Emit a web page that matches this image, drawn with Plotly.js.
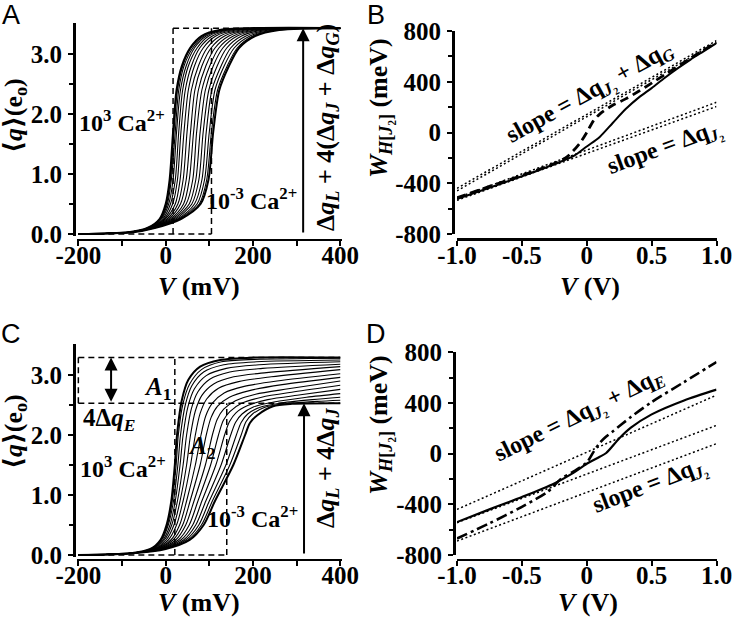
<!DOCTYPE html>
<html><head><meta charset="utf-8">
<script src="https://cdn.plot.ly/plotly-3.0.1.min.js"></script>
<style>html,body{margin:0;padding:0;background:#fff;}#chart{width:733px;height:619px;}</style>
</head><body><div id="chart"></div>
<script>
// ---------- DATA ----------
const V_MIN = -200, V_MAX = 400;           // mV
// Panel A: voltage (mV) at which each curve reaches the charge levels below
const A_levels = [0.03, 0.1, 0.25, 0.5, 0.9, 1.7, 2.4, 2.8, 3.1, 3.3, 3.4];
const A_qMax = 3.43;
const A_V = [
  [-85,-42,-14,0,9,17,25,37,56,82,124],
  [-85,-42,-13,2,11,19,27,39,58,84,127],
  [-84,-41,-12,4,13,22,30,42,62,88,131],
  [-84,-40,-10,7,17,25,34,47,66,93,136],
  [-84,-40,-7,11,22,30,39,52,72,99,143],
  [-83,-39,-4,16,27,35,45,59,78,107,151],
  [-82,-37,-1,22,33,42,52,66,86,115,161],
  [-82,-36,3,28,40,49,59,75,95,125,172],
  [-81,-35,7,34,47,57,67,83,104,135,183],
  [-80,-33,11,41,54,64,75,92,113,145,193],
  [-79,-32,15,47,62,71,83,101,122,155,204],
  [-78,-31,19,54,69,79,91,109,131,164,215],
  [-78,-29,23,60,76,86,99,118,140,174,226],
  [-77,-28,27,66,83,93,106,127,149,184,237],
  [-76,-27,30,72,89,100,113,134,157,193,246],
  [-75,-26,33,77,94,105,119,141,164,200,255],
  [-75,-25,35,80,98,109,123,145,168,205,260]
];
const A_guideV = [17, 105];
const A_arrowV = 315;

// Panel C: rising part (V at levels) + tail points (V, q)
const C_levels = [0.03, 0.1, 0.25, 0.5, 0.9, 1.5, 2.0];
const C_riseV = [
  [-80,-35,-12,2,13,21,26],
  [-80,-34,-11,4,15,24,29],
  [-80,-33,-9,6,18,28,34],
  [-80,-32,-6,10,22,33,40],
  [-79,-30,-3,14,27,40,48],
  [-79,-28,1,19,33,48,57],
  [-79,-26,6,25,40,57,68],
  [-78,-23,12,32,48,68,81],
  [-78,-20,17,39,56,79,93],
  [-77,-17,23,46,65,91,107],
  [-77,-14,29,54,74,103,121],
  [-77,-11,35,62,83,115,135],
  [-76,-7,41,69,92,127,149],
  [-76,-5,46,76,100,138,162],
  [-75,-2,51,82,107,147,173],
  [-75,0,55,87,113,155,182]
];
const C_tailV = [
  [37,52,79,125,200,400],
  [40,55,82,128,203,400],
  [45,60,87,133,208,400],
  [51,66,93,139,214,400],
  [59,74,101,147,222,400],
  [68,83,110,156,231,400],
  [79,94,121,167,242,400],
  [92,107,134,180,255,400],
  [104,119,146,192,267,400],
  [118,133,160,206,281,400],
  [132,147,174,220,295,400],
  [146,161,188,234,309,400],
  [160,175,202,248,323,400],
  [173,188,215,261,336,400],
  [184,199,226,272,347,400],
  [193,210,246,290,400]
];
const C_tailQ = [
  [2.58,2.92,3.14,3.25,3.29,3.29],
  [2.53,2.85,3.09,3.22,3.26,3.28],
  [2.50,2.82,3.05,3.17,3.22,3.25],
  [2.47,2.77,2.99,3.11,3.17,3.22],
  [2.44,2.72,2.93,3.05,3.11,3.18],
  [2.40,2.66,2.85,2.97,3.04,3.14],
  [2.36,2.60,2.78,2.89,2.97,3.09],
  [2.32,2.53,2.70,2.81,2.90,3.02],
  [2.29,2.48,2.63,2.74,2.84,2.96],
  [2.26,2.43,2.57,2.68,2.77,2.90],
  [2.24,2.39,2.53,2.63,2.72,2.83],
  [2.22,2.37,2.49,2.59,2.67,2.76],
  [2.21,2.35,2.47,2.55,2.63,2.69],
  [2.21,2.35,2.46,2.53,2.59,2.63],
  [2.22,2.35,2.46,2.52,2.56,2.58],
  [2.20,2.33,2.48,2.52,2.53]
];
const C_qTop = 3.29, C_qMid = 2.53;
const C_guideV = [21, 140];
const C_arrow2V = -125, C_arrowV = 317;

// Panel B (V in volts, W in meV)
const B_V     = [-1,-0.75,-0.5,-0.25,-0.1,0,0.1,0.2,0.3,0.4,0.5,0.6,0.7,0.8,0.9,1.0];
const B_solid = [-525,-435,-345,-250,-185,-110,-35,75,185,275,350,430,505,575,640,705];
const B_dashV = [-1,-0.75,-0.5,-0.25,-0.15,-0.05,0,0.05,0.1,0.2,0.3,0.4,0.5,0.6,0.8,1.0];
const B_dash  = [-515,-425,-338,-245,-190,-80,0,90,145,215,265,325,389,455,585,712];
const B_dotV  = [-1, 1];
const B_dotUp1 = [-440, 725], B_dotUp2 = [-460, 708];
const B_dotLo1 = [-515, 238], B_dotLo2 = [-535, 205];

// Panel D
const D_V      = [-1,-0.75,-0.5,-0.25,-0.1,0,0.1,0.15,0.25,0.34,0.5,0.75,1.0];
const D_solid  = [-540,-440,-342,-235,-150,-80,-25,5,120,205,310,420,505];
const D_ddV    = [-1,-0.75,-0.5,-0.3,-0.2,-0.1,0,0.05,0.1,0.15,0.2,0.34,0.5,0.75,1.0];
const D_dd     = [-670,-550,-420,-300,-200,-140,-70,10,85,135,175,289,407,565,723];
const D_dotV   = [-1, 1];
const D_dotUp  = [-440, 462];
const D_dotLo1 = [-545, 223], D_dotLo2 = [-690, 79];

// tick labels
const A_xTickVals = [-200, 0, 200, 400], A_xTickText = ['-200','0','200','400'];
const A_yTickVals = [0, 1, 2, 3], A_yTickText = ['0.0','1.0','2.0','3.0'];
const B_xTickVals = [-1, -0.5, 0, 0.5, 1], B_xTickText = ['-1.0','-0.5','0','0.5','1.0'];
const B_yTickVals = [-800, -400, 0, 400, 800], B_yTickText = ['-800','-400','0','400','800'];

// ---------- DRAWING ----------
const W = 733, H = 619;
const fx = x => x / W, fy = y => 1 - y / H;
const SERIF = 'Liberation Serif, Times New Roman, DejaVu Serif, serif';
const traces = [];
function addLine(x, y, xa, ya, dash, width, spline) {
  traces.push({type:'scatter', mode:'lines', x:x, y:y, xaxis:xa, yaxis:ya,
    line:{color:'black', width:width, dash:dash, shape: spline ? 'spline' : 'linear', smoothing: 0.8},
    hoverinfo:'skip', showlegend:false});
}
const GUIDE = '6px,4px';

// Panel A guides
addLine([A_guideV[0], V_MAX], [A_qMax, A_qMax], 'x', 'y', GUIDE, 1.5);
addLine([V_MIN, A_guideV[1]], [0, 0], 'x', 'y', GUIDE, 1.5);
addLine([A_guideV[0], A_guideV[0]], [0, A_qMax], 'x', 'y', GUIDE, 1.5);
addLine([A_guideV[1], A_guideV[1]], [0, A_qMax], 'x', 'y', GUIDE, 1.5);
// Panel A curves
A_V.forEach((row, i) => {
  const w = (i === 0 || i === A_V.length - 1) ? 2 : 1.1;
  addLine([V_MIN].concat(row, [V_MAX]), [0].concat(A_levels, [A_qMax]), 'x', 'y', 'solid', w, true);
});

// Panel C guides
addLine([V_MIN, V_MAX], [C_qTop, C_qTop], 'x3', 'y3', GUIDE, 1.5);
addLine([V_MIN, V_MAX], [C_qMid, C_qMid], 'x3', 'y3', GUIDE, 1.5);
addLine([V_MIN, C_guideV[1]], [0, 0], 'x3', 'y3', GUIDE, 1.5);
addLine([V_MIN, V_MIN], [C_qMid, C_qTop], 'x3', 'y3', GUIDE, 1.5);
addLine([C_guideV[0], C_guideV[0]], [0, C_qTop], 'x3', 'y3', GUIDE, 1.5);
addLine([C_guideV[1], C_guideV[1]], [0, C_qMid], 'x3', 'y3', GUIDE, 1.5);
// Panel C curves
C_riseV.forEach((row, i) => {
  const w = (i === 0 || i === C_riseV.length - 1) ? 2 : 1.1;
  addLine([V_MIN].concat(row, C_tailV[i]), [0].concat(C_levels, C_tailQ[i]), 'x3', 'y3', 'solid', w, true);
});

// Panel B
const DOT = '2px,2.5px';
addLine(B_dotV, B_dotUp1, 'x2', 'y2', DOT, 1.5);
addLine(B_dotV, B_dotUp2, 'x2', 'y2', DOT, 1.5);
addLine(B_dotV, B_dotLo1, 'x2', 'y2', DOT, 1.5);
addLine(B_dotV, B_dotLo2, 'x2', 'y2', DOT, 1.5);
addLine(B_V, B_solid, 'x2', 'y2', 'solid', 2, true);
addLine(B_dashV, B_dash, 'x2', 'y2', '9px,5px', 2.8, true);

// Panel D
addLine(D_dotV, D_dotUp, 'x4', 'y4', DOT, 1.5);
addLine(D_dotV, D_dotLo1, 'x4', 'y4', DOT, 1.5);
addLine(D_dotV, D_dotLo2, 'x4', 'y4', DOT, 1.5);
addLine(D_V, D_solid, 'x4', 'y4', 'solid', 2.2, true);
addLine(D_ddV, D_dd, 'x4', 'y4', '11px,4px,3px,4px', 2.6, true);

// ---------- AXES ----------
const tickFont = {family: SERIF, size: 25, color: 'black', weight: 'bold'};
function axis(o) {
  return Object.assign({
    showline: true, linecolor: 'black', linewidth: 2.5, mirror: false,
    ticks: 'outside', ticklen: 5, tickwidth: 2, tickcolor: 'black',
    showgrid: false, zeroline: false, fixedrange: true, anchor: 'free',
    tickmode: 'array', tickfont: tickFont, ticklabeloverflow: 'allow'
  }, o);
}
const minorX = {ticks:'outside', ticklen:5, tickwidth:2, tickcolor:'black', showgrid:false};
const XSTAND = -12;
const layout = {
  width: W, height: H, margin: {l:0, r:0, t:0, b:0},
  paper_bgcolor: 'white', plot_bgcolor: 'rgba(0,0,0,0)', showlegend: false,
  xaxis: axis({domain:[fx(76.6), fx(342)], range:[-204, 404], position: fy(239.5),
    tickvals: A_xTickVals, ticktext: A_xTickText, ticklabelstandoff: XSTAND,
    minor: Object.assign({tickmode:'array', tickvals:[-100,100,300]}, minorX)}),
  yaxis: axis({domain:[fy(236.4), fy(22.8)], range:[-0.04, 3.52], position: fx(74),
    tickvals: A_yTickVals, ticktext: A_yTickText, ticklabelstandoff: 1,
    minor: Object.assign({tickmode:'array', tickvals:[0.5,1.5,2.5]}, minorX, {ticklen:4})}),
  xaxis2: axis({domain:[fx(457), fx(716.5)], range:[-1, 1], position: fy(239),
    tickvals: B_xTickVals, ticktext: B_xTickText, ticklabelstandoff: XSTAND}),
  yaxis2: axis({domain:[fy(234), fy(31)], range:[-800, 800], position: fx(453),
    tickvals: B_yTickVals, ticktext: B_yTickText, ticklabelstandoff: 1,
    minor: Object.assign({tickmode:'array', tickvals:[-600,-200,200,600]}, minorX, {ticklen:4})}),
  xaxis3: axis({domain:[fx(76.6), fx(342)], range:[-204, 404], position: fy(559.8),
    tickvals: A_xTickVals, ticktext: A_xTickText, ticklabelstandoff: XSTAND,
    minor: Object.assign({tickmode:'array', tickvals:[-100,100,300]}, minorX)}),
  yaxis3: axis({domain:[fy(557.4), fy(344.4)], range:[-0.04, 3.51], position: fx(74),
    tickvals: A_yTickVals, ticktext: A_yTickText, ticklabelstandoff: 1,
    minor: Object.assign({tickmode:'array', tickvals:[0.5,1.5,2.5]}, minorX, {ticklen:4})}),
  xaxis4: axis({domain:[fx(457), fx(716.5)], range:[-1, 1], position: fy(559.5),
    tickvals: B_xTickVals, ticktext: B_xTickText, ticklabelstandoff: XSTAND}),
  yaxis4: axis({domain:[fy(555), fy(352.3)], range:[-800, 800], position: fx(454),
    tickvals: B_yTickVals, ticktext: B_yTickText, ticklabelstandoff: 1,
    minor: Object.assign({tickmode:'array', tickvals:[-600,-200,200,600]}, minorX, {ticklen:4})})
};

// ---------- TEXT & ARROWS ----------
const ann = [];
function txt(text, x, y, size, angle, family) {
  ann.push({xref:'paper', yref:'paper', x: fx(x), y: fy(y), text: text, showarrow:false,
    xanchor:'center', yanchor:'middle', textangle: angle || 0,
    font:{family: family || SERIF, size: size || 24, color:'black'}});
}
const SANS = 'Liberation Sans, Arial, sans-serif';
txt('A', 11, 15, 27, 0, SANS);
txt('B', 376, 15, 27, 0, SANS);
txt('C', 11, 334, 27, 0, SANS);
txt('D', 376, 334, 27, 0, SANS);

const qTitle = '<b>⟨<i>q</i>⟩(e<sub>o</sub>)</b>';
const wTitle = '<b><i>W</i><sub><i>H</i>[<i>J</i>₂]</sub> (meV)</b>';
txt(qTitle, 15, 116, 26, -90);
txt(qTitle, 15, 432, 26, -90);
txt(wTitle, 380, 108, 26, -90);
txt(wTitle, 380, 425, 26, -90);
txt('<b><i>V</i> (mV)</b>', 199, 286, 26);
txt('<b><i>V</i> (mV)</b>', 199, 602, 26);
txt('<b><i>V</i> (V)</b>', 590, 286, 26);
txt('<b><i>V</i> (V)</b>', 588, 602, 26);

const hiCa = '<b>10<sup>3</sup> Ca<sup>2+</sup></b>';
const loCa = '<b>10<sup>-3</sup> Ca<sup>2+</sup></b>';
txt(hiCa, 122, 121, 24);
txt(loCa, 251, 199, 24);
txt(hiCa, 123, 467, 24);
txt(loCa, 252, 517, 24);
txt('<b>Δ<i>q</i><sub><i>L</i></sub> + 4(Δ<i>q</i><sub><i>J</i></sub> + Δ<i>q</i><sub><i>G</i></sub>)</b>', 327, 128, 26, -90);
txt('<b>Δ<i>q</i><sub><i>L</i></sub> + 4Δ<i>q</i><sub><i>J</i></sub></b>', 327, 468, 26, -90);
txt('<b><i>A</i><sub>1</sub></b>', 157, 388, 25);
txt('<b><i>A</i><sub>2</sub></b>', 201, 447, 25);
txt('<b>4Δ<i>q</i><sub><i>E</i></sub></b>', 109, 420, 25);

txt('<b>slope = Δq<sub><i>J</i>₂</sub> + Δq<sub><i>G</i></sub></b>', 590, 93, 24, -29);
txt('<b>slope = Δq<sub><i>J</i>₂</sub></b>', 665, 148, 24, -20);
txt('<b>slope = Δq<sub><i>J</i>₂</sub> + Δq<sub><i>E</i></sub></b>', 579, 416, 24, -26);
txt('<b>slope = Δq<sub><i>J</i>₂</sub></b>', 650, 486, 24, -21);

function arrow(xa, ya, x, y0, y1, both) {
  ann.push({xref:xa, yref:ya, axref:xa, ayref:ya, x:x, y:y1, ax:x, ay:y0, text:'',
    showarrow:true, arrowhead:2, arrowsize:1.3, arrowwidth:2, arrowcolor:'black',
    arrowside: both ? 'end+start' : 'end', startarrowhead:2, startarrowsize:1.3, standoff:0, startstandoff:0});
}
arrow('x', 'y', A_arrowV, 0, A_qMax, false);
arrow('x3', 'y3', C_arrowV, 0, C_qMid, false);
arrow('x3', 'y3', C_arrow2V, C_qMid, C_qTop, true);

layout.annotations = ann;
Plotly.newPlot('chart', traces, layout, {staticPlot:true, displayModeBar:false});
</script></body></html>
